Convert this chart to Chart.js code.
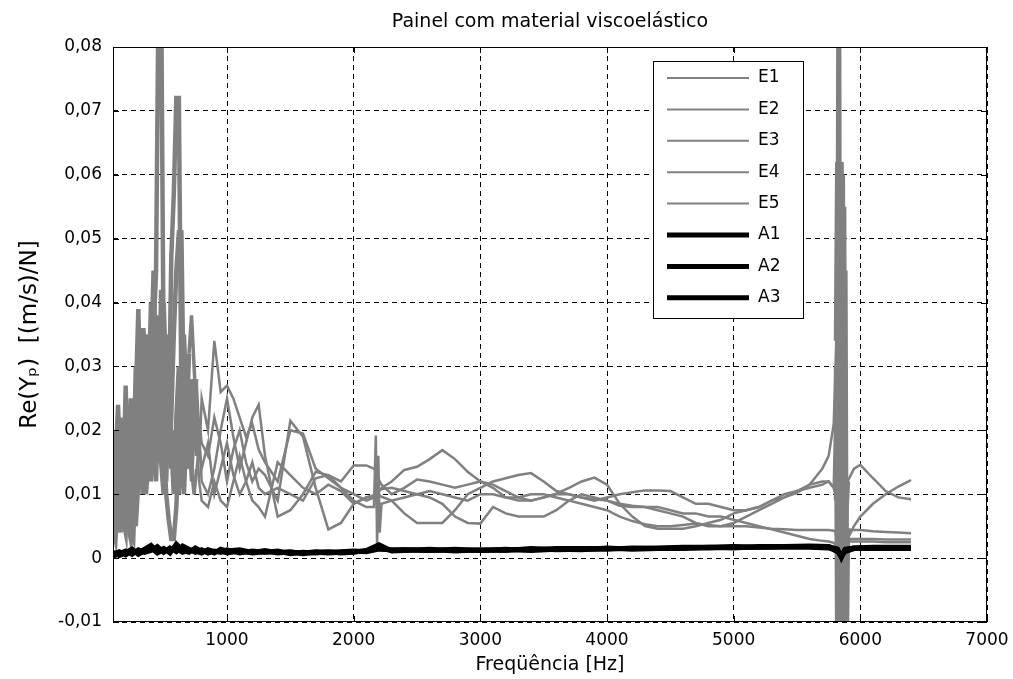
<!DOCTYPE html>
<html>
<head>
<meta charset="utf-8">
<script src="https://cdn.jsdelivr.net/npm/chart.js@4.4.0/dist/chart.umd.min.js"></script>
<style>
  html, body { margin: 0; padding: 0; background: #fff; }
</style>
</head>
<body>
<canvas id="chart" width="1013" height="679"></canvas>
<script>
const TITLE  = 'Painel com material viscoelástico';
const XLABEL = 'Freqüência [Hz]';
const YLABEL = 'Re(Yₚ)  [(m/s)/N]';

const xTicks = [1000, 2000, 3000, 4000, 5000, 6000, 7000];
const yTicks = [-0.01, 0, 0.01, 0.02, 0.03, 0.04, 0.05, 0.06, 0.07, 0.08];

// frequencies of the measured (E) curves, Hz
const freqE = [
  100,120,140,160,180,200,220,240,260,280,300,320,340,360,380,400,420,440,460,480,500,520,540,560,580,600,620,640,660,680,700,720,740,760,780,800,
  850,900,950,1000,1050,1100,1150,1200,1250,1300,
  1400,1500,1600,1700,1800,1900,2000,2100,
  2160,2175,2185,2195,2205,2220,
  2300,2400,2500,2600,2700,2800,2900,3000,3100,3200,3300,3400,3500,3600,3700,3800,3900,4000,4100,4200,4300,4400,4500,4600,4700,4800,4900,5000,5100,5200,5300,5400,5500,5600,5700,
  5750,5790,5810,5820,5830,5840,5850,5860,5870,5880,5890,5900,5950,
  6000,6100,6200,6300,6400
];

const e1 = [
  0.008,0.012,0.006,0.015,0.010,0.027,0.008,0.014,0.018,0.025,0.039,0.020,0.028,0.015,0.030,0.022,0.035,0.045,0.090,0.090,0.030,0.012,0.025,0.018,0.010,0.022,0.030,0.018,0.025,0.014,0.020,0.028,0.024,0.016,0.022,0.018,
  0.016,0.022,0.018,0.012,0.017,0.020,0.015,0.012,0.014,0.013,
  0.009,0.0215,0.019,0.011,0.0045,0.0055,0.0085,0.0095,
  0.0098,0.010,0.010,0.010,0.0098,0.0096,
  0.009,0.007,0.0055,0.0055,0.0055,0.0075,0.010,0.011,0.012,0.0125,0.013,0.0133,0.012,0.0105,0.010,0.0095,0.0092,0.009,0.0085,0.0082,0.008,0.0075,0.007,0.0065,0.0055,0.005,0.005,0.0055,0.0065,0.0075,0.0085,0.0095,0.0105,0.0115,0.012,
  0.012,0.011,0.009,0.020,0.090,-0.015,0.062,-0.015,0.055,-0.015,0.008,0.012,0.014,
  0.0146,0.0125,0.0105,0.0095,0.0092
];
const e2 = [
  0.005,0.003,0.010,0.004,0.018,0.008,0.005,0.003,0.012,0.030,0.022,0.036,0.018,0.035,0.025,0.040,0.028,0.038,0.020,0.042,0.025,0.035,0.020,0.047,0.057,0.072,0.072,0.025,0.010,0.020,0.032,0.038,0.030,0.022,0.015,0.025,
  0.020,0.034,0.026,0.027,0.025,0.022,0.019,0.021,0.017,0.015,
  0.012,0.020,0.0195,0.014,0.0125,0.011,0.010,0.009,
  0.0095,0.0098,0.010,0.0103,0.0106,0.011,
  0.012,0.0138,0.0143,0.0155,0.0169,0.0155,0.0135,0.012,0.0115,0.0105,0.0095,0.009,0.0095,0.0101,0.011,0.012,0.0126,0.0115,0.0085,0.0065,0.005,0.0046,0.0046,0.0046,0.005,0.0055,0.006,0.007,0.0075,0.008,0.009,0.0095,0.0102,0.0115,0.014,
  0.016,0.021,0.034,0.062,-0.015,0.062,-0.015,0.060,-0.015,0.045,-0.015,0.003,0.005,
  0.0065,0.0085,0.010,0.0112,0.0122
];
const e3 = [
  0.012,0.020,0.008,0.005,0.014,0.020,0.010,0.004,0.003,0.015,0.032,0.025,0.036,0.028,0.020,0.030,0.045,0.025,0.032,0.020,0.040,0.028,0.015,0.022,0.035,0.045,0.051,0.051,0.022,0.030,0.018,0.012,0.020,0.028,0.020,0.012,
  0.010,0.014,0.020,0.025,0.019,0.014,0.018,0.022,0.024,0.016,
  0.0065,0.0075,0.010,0.0135,0.013,0.012,0.0145,0.0145,
  0.014,0.0135,0.013,0.0125,0.012,0.0115,
  0.010,0.011,0.0123,0.012,0.0115,0.011,0.0115,0.012,0.011,0.0095,0.009,0.009,0.0095,0.010,0.010,0.0095,0.009,0.0095,0.010,0.0103,0.0106,0.0106,0.0105,0.0095,0.0085,0.0085,0.008,0.0075,0.0075,0.008,0.009,0.010,0.0105,0.011,0.0115,
  0.012,0.011,0.030,-0.015,0.057,-0.015,0.057,-0.015,0.040,-0.012,0.002,0.0045,0.0044,
  0.0044,0.0042,0.0041,0.004,0.0039
];
const e4 = [
  0.018,0.006,0.014,0.022,0.006,0.004,0.018,0.025,0.010,0.005,0.012,0.030,0.010,0.022,0.035,0.012,0.020,0.030,0.015,0.028,0.018,0.010,0.006,0.003,0.003,0.008,0.018,0.028,0.035,0.025,0.014,0.020,0.028,0.020,0.012,0.009,
  0.008,0.012,0.009,0.008,0.012,0.016,0.012,0.009,0.008,0.0065,
  0.015,0.013,0.011,0.010,0.0115,0.0105,0.0085,0.0095,
  0.0098,0.010,0.0102,0.0104,0.0106,0.0108,
  0.011,0.0105,0.010,0.0095,0.0085,0.0065,0.0055,0.0054,0.008,0.007,0.0065,0.0065,0.0065,0.0075,0.009,0.010,0.0095,0.009,0.0082,0.008,0.008,0.008,0.0075,0.007,0.007,0.0065,0.0065,0.006,0.0055,0.005,0.0045,0.004,0.0035,0.003,0.0027,
  0.0026,0.0024,0.002,0.0015,0.005,0,0.008,0.001,0.004,0.002,0.0025,0.003,0.003,
  0.003,0.003,0.0029,0.0029,0.0029
];
const e5 = [
  0.003,0.015,0.024,0.012,0.005,0.012,0.022,0.015,0.006,0.020,0.010,0.015,0.025,0.010,0.015,0.025,0.018,0.012,0.028,0.015,0.010,0.022,0.030,0.014,0.020,0.015,0.010,0.014,0.020,0.028,0.022,0.014,0.010,0.014,0.018,0.014,
  0.018,0.010,0.014,0.018,0.013,0.010,0.012,0.015,0.011,0.010,
  0.011,0.010,0.009,0.0125,0.013,0.011,0.009,0.008,
  0.008,0.0192,0.0018,0.016,0.004,0.0085,
  0.009,0.0095,0.010,0.0105,0.010,0.0095,0.009,0.010,0.010,0.0095,0.0095,0.010,0.010,0.0095,0.009,0.0085,0.008,0.0075,0.0065,0.0058,0.0053,0.005,0.005,0.0052,0.0054,0.0052,0.005,0.005,0.005,0.0048,0.0046,0.0045,0.0044,0.0044,0.0044,
  0.0044,0.0043,0.004,0.0035,0.003,0.002,0.001,0.0015,0.002,0.0025,0.0026,0.0026,0.0026,
  0.0026,0.0026,0.0025,0.0025,0.0025
];

// frequencies of the analytical (A) curves, Hz
const freqA = [
  100,150,200,250,300,350,400,450,500,550,600,650,700,750,800,850,900,950,1000,
  1100,1200,1300,1400,1500,1600,1700,1800,1900,2000,2100,2200,2300,2400,
  2600,2800,3000,3200,3400,3600,3800,4000,4200,4400,4600,4800,5000,5200,5400,5600,
  5750,5820,5850,5880,5950,6100,6250,6400
];
const a1 = [
  0.0006,0.0010,0.0005,0.0012,0.0008,0.0014,0.0020,0.0010,0.0015,0.0008,0.0022,0.0012,0.0009,0.0016,0.0010,0.0012,0.0008,0.0014,0.0011,
  0.0013,0.0009,0.0012,0.0008,0.0010,0.0007,0.0009,0.0008,0.0009,0.0010,0.0011,0.0016,0.0012,0.0013,
  0.0012,0.0013,0.0012,0.0014,0.0012,0.0014,0.0013,0.0016,0.0014,0.0015,0.0016,0.0016,0.0017,0.0017,0.0017,0.0017,
  0.0016,0.0012,0.0002,0.0013,0.0016,0.0016,0.0016,0.0016
];
const a2 = [
  0.0003,0.0007,0.0011,0.0006,0.0013,0.0009,0.0012,0.0018,0.0009,0.0016,0.0010,0.0019,0.0014,0.0009,0.0013,0.0008,0.0011,0.0009,0.0013,
  0.0008,0.0011,0.0009,0.0011,0.0007,0.0009,0.0008,0.0010,0.0008,0.0009,0.0012,0.0021,0.0011,0.0012,
  0.0014,0.0011,0.0013,0.0012,0.0015,0.0013,0.0014,0.0014,0.0016,0.0015,0.0015,0.0017,0.0016,0.0018,0.0018,0.0018,
  0.0017,0.0010,0.0004,0.0010,0.0015,0.0015,0.0015,0.0015
];
const a3 = [
  0.0009,0.0004,0.0008,0.0014,0.0006,0.0011,0.0016,0.0008,0.0013,0.0011,0.0015,0.0009,0.0012,0.0011,0.0008,0.0013,0.0010,0.0011,0.0008,
  0.0011,0.0008,0.0010,0.0009,0.0009,0.0008,0.0010,0.0009,0.0010,0.0011,0.0010,0.0014,0.0013,0.0013,
  0.0012,0.0014,0.0012,0.0013,0.0013,0.0015,0.0015,0.0015,0.0015,0.0016,0.0017,0.0017,0.0018,0.0017,0.0018,0.0019,
  0.0018,0.0014,0.0001,0.0014,0.0016,0.0017,0.0017,0.0017
];

const GRAY  = '#808080';
const BLACK = '#000000';
const FONT  = '"DejaVu Sans", "Liberation Sans", sans-serif';

Chart.defaults.font.family = FONT;
Chart.defaults.font.size = 17;
Chart.defaults.color = '#000';

const toPts = (xs, ys) => xs.map((x, i) => ({ x, y: ys[i] }));

// the dense low-frequency part and the 5.85 kHz resonance read as a solid band in the figure
const denseWidth = c => {
  const f = c.p0.parsed.x;
  if (f < 700) return 4.5;
  if (f < 760) return 3.5;
  if (f >= 5810 && f < 5900) return 5;
  return 2.5;
};

const series = [
  { label: 'E1', xs: freqE, ys: e1, color: GRAY,  width: 2.5, order: 1 },
  { label: 'E2', xs: freqE, ys: e2, color: GRAY,  width: 2.5, order: 1 },
  { label: 'E3', xs: freqE, ys: e3, color: GRAY,  width: 2.5, order: 1 },
  { label: 'E4', xs: freqE, ys: e4, color: GRAY,  width: 2.5, order: 1 },
  { label: 'E5', xs: freqE, ys: e5, color: GRAY,  width: 2.5, order: 1 },
  { label: 'A1', xs: freqA, ys: a1, color: BLACK, width: 5, order: 0 },
  { label: 'A2', xs: freqA, ys: a2, color: BLACK, width: 5, order: 0 },
  { label: 'A3', xs: freqA, ys: a3, color: BLACK, width: 5, order: 0 },
];

const datasets = series.map(s => ({
  label: s.label,
  data: toPts(s.xs, s.ys),
  borderColor: s.color,
  backgroundColor: s.color,
  borderWidth: s.width,
  segment: s.label[0] === 'E' ? { borderWidth: denseWidth } : undefined,
  pointRadius: 0,
  tension: 0,
  fill: false,
  clip: 0,
  order: s.order,
}));

// box around the axes + small inward tick marks (matlab style)
const axesBox = {
  id: 'axesBox',
  afterDatasetsDraw(chart) {
    const { ctx, chartArea: a, scales: { x, y } } = chart;
    ctx.save();
    ctx.strokeStyle = '#000';
    ctx.lineWidth = 1;
    ctx.setLineDash([]);
    ctx.strokeRect(a.left + 0.5, a.top + 0.5, a.right - a.left - 1, a.bottom - a.top - 1);
    const tl = 6;
    ctx.beginPath();
    xTicks.forEach(v => {
      const px = Math.round(x.getPixelForValue(v)) + 0.5;
      ctx.moveTo(px, a.bottom); ctx.lineTo(px, a.bottom - tl);
      ctx.moveTo(px, a.top);    ctx.lineTo(px, a.top + tl);
    });
    yTicks.forEach(v => {
      const py = Math.round(y.getPixelForValue(v)) + 0.5;
      ctx.moveTo(a.left, py);  ctx.lineTo(a.left + tl, py);
      ctx.moveTo(a.right, py); ctx.lineTo(a.right - tl, py);
    });
    ctx.stroke();
    ctx.restore();
  }
};

// legend drawn as a boxed list inside the plot, upper right
const boxLegend = {
  id: 'boxLegend',
  afterDraw(chart) {
    const { ctx, chartArea: a } = chart;
    const x0 = a.right - 334, y0 = a.top + 14, w = 150, h = 257;
    ctx.save();
    ctx.fillStyle = '#fff';
    ctx.fillRect(x0, y0, w, h);
    ctx.strokeStyle = '#000';
    ctx.lineWidth = 1;
    ctx.setLineDash([]);
    ctx.strokeRect(x0 + 0.5, y0 + 0.5, w, h);
    ctx.font = '17px ' + FONT;
    ctx.textBaseline = 'middle';
    ctx.textAlign = 'left';
    chart.data.datasets.forEach((ds, i) => {
      const yy = y0 + 17 + i * 31.4;
      ctx.strokeStyle = ds.borderColor;
      ctx.lineWidth = ds.label[0] === 'E' ? 2 : 5;
      ctx.beginPath();
      ctx.moveTo(x0 + 14, yy);
      ctx.lineTo(x0 + 96, yy);
      ctx.stroke();
      ctx.fillStyle = '#000';
      ctx.fillText(ds.label, x0 + 105, yy);
    });
    ctx.restore();
  }
};

new Chart(document.getElementById('chart'), {
  type: 'line',
  data: { datasets },
  options: {
    responsive: false,
    animation: false,
    devicePixelRatio: 1,
    layout: { padding: { top: 0, right: 26, bottom: 0, left: 0 } },
    plugins: {
      legend: { display: false },
      tooltip: { enabled: false },
      title: {
        display: true,
        fullSize: false,
        text: TITLE,
        color: '#000',
        font: { size: 19, weight: 'normal' },
        padding: { top: 10.6, bottom: 13.6 },
      },
    },
    scales: {
      x: {
        type: 'linear',
        min: 100,
        max: 7000,
        afterBuildTicks: s => { s.ticks = xTicks.map(v => ({ value: v })); },
        afterFit: s => { s.height = 57; s.paddingLeft = 0; s.paddingRight = 0; },
        ticks: { padding: 8, maxRotation: 0, autoSkip: false, callback: v => String(v) },
        grid: { color: '#000', lineWidth: 1, drawTicks: false },
        border: { display: false, dash: [5, 4] },
        title: { display: true, text: XLABEL, font: { size: 19 }, padding: { top: 0, bottom: 2.6 } },
      },
      y: {
        type: 'linear',
        min: -0.01,
        max: 0.08,
        afterBuildTicks: s => { s.ticks = yTicks.map(v => ({ value: v })); },
        afterFit: s => { s.width = 113; s.paddingTop = 0; s.paddingBottom = 0; },
        ticks: {
          padding: 11,
          autoSkip: false,
          callback: v => Math.abs(v) < 1e-9 ? '0' : v.toFixed(2).replace('.', ','),
        },
        grid: { color: '#000', lineWidth: 1, drawTicks: false },
        border: { display: false, dash: [5, 4] },
        title: { display: true, text: YLABEL, font: { size: 23 }, padding: { top: 16, bottom: 0 } },
      },
    },
  },
  plugins: [axesBox, boxLegend],
});
</script>
</body>
</html>
